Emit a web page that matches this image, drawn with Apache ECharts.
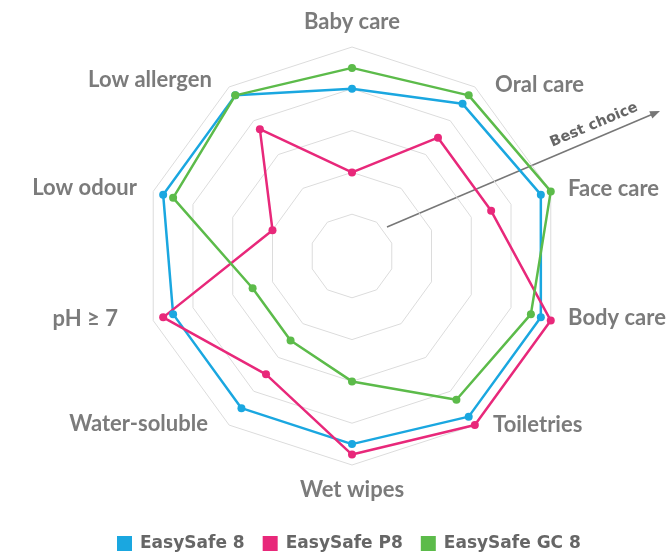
<!DOCTYPE html>
<html>
<head>
<meta charset="utf-8">
<script src="https://cdn.jsdelivr.net/npm/echarts@6/dist/echarts.min.js"></script>
<style>
  html, body { margin: 0; padding: 0; background: #fff; }
  #chart { width: 667px; height: 554px; }
</style>
</head>
<body>
<div id="chart"></div>
<script>
  // axes, clockwise from the top
  const categories = ['Baby care', 'Oral care', 'Face care', 'Body care', 'Toiletries',
    'Wet wipes', 'Water-soluble', 'pH \u2265 7', 'Low odour', 'Low allergen']
  const seriesNames = ['EasySafe 8', 'EasySafe P8', 'EasySafe GC 8']
  const easySafe8 = [8, 9, 9.5, 9.5, 9.5, 9, 9, 9, 9.5, 9.5]
  const easySafeP8 = [4, 7, 7, 10, 10, 9.5, 7, 9.5, 4, 7.5]
  const easySafeGC8 = [9, 9.5, 10, 9, 8.5, 6, 5, 5, 9, 9.5]
  const maxValue = 10

  const colors = ['#1aa7e0', '#e8287a', '#5cbb4a']

  // nudges for the axis names, [dx, dy], same order as categories
  const nameShift = [[0, 1], [12, 9], [4, 2], [4, -7], [10, -12],
    [0, 0], [-13, -13], [-22, -6], [-3, 1], [-9, 4]]

  // echarts lays indicators out counter-clockwise, so keep the first one and flip the rest
  function ccw(arr) {
    return [arr[0]].concat(arr.slice(1).reverse())
  }

  const nameFont = {
    fontFamily: 'Lato',
    fontWeight: 'bold',
    fontSize: 22,
    color: '#7b7b7b'
  }
  const rich = {}
  nameShift.forEach(function(s, i) {
    const dx = s[0]
    const dy = s[1]
    rich['n' + i] = Object.assign({
      padding: [dy > 0 ? 2 * dy : 0, dx < 0 ? -dx : 0, dy < 0 ? -2 * dy : 0, dx > 0 ? dx : 0]
    }, nameFont)
  })

  const legendFont = {
    fontFamily: 'DejaVu Sans',
    fontWeight: 'bold',
    fontSize: 17,
    color: '#666'
  }

  const chart = echarts.init(document.getElementById('chart'))
  const values = [easySafe8, easySafeP8, easySafeGC8]

  chart.setOption({
    animation: false,
    color: colors,
    legend: {
      bottom: -3,
      left: 112,
      itemWidth: 15,
      itemHeight: 15,
      itemGap: 18,
      icon: 'rect',
      formatter: function(name) {
        return '{t|' + name + '}'
      },
      textStyle: Object.assign({
        rich: { t: Object.assign({ padding: [0, 0, 0, 3] }, legendFont) }
      }, legendFont),
      data: seriesNames
    },
    radar: {
      center: [352, 256],
      radius: 209,
      splitNumber: 5,
      nameGap: 14,
      axisName: Object.assign({
        formatter: function(name) {
          return '{n' + categories.indexOf(name) + '|' + name + '}'
        },
        rich: rich
      }, nameFont),
      axisLine: { show: false },
      splitArea: { show: false },
      splitLine: { lineStyle: { color: '#dcdcdc', width: 1 } },
      indicator: ccw(categories).map(function(name) {
        return { name: name, min: 0, max: maxValue }
      })
    },
    graphic: [
      {
        type: 'line',
        shape: { x1: 387, y1: 227, x2: 653, y2: 114 },
        style: { stroke: '#777', lineWidth: 1.5 }
      },
      {
        type: 'polygon',
        x: 660,
        y: 111,
        rotation: 22.8 * Math.PI / 180,
        shape: { points: [[0, 0], [-10, -4], [-10, 4]] },
        style: { fill: '#777' }
      },
      {
        type: 'text',
        x: 594,
        y: 125,
        rotation: 22.8 * Math.PI / 180,
        style: {
          text: 'Best choice',
          fontFamily: 'DejaVu Sans',
          fontWeight: 'bold',
          fontSize: 14.5,
          fill: '#666',
          textAlign: 'center',
          textVerticalAlign: 'middle'
        }
      }
    ],
    series: [{
      type: 'radar',
      symbol: 'circle',
      symbolSize: 8,
      lineStyle: { width: 2.5 },
      data: seriesNames.map(function(name, i) {
        return { name: name, value: ccw(values[i]) }
      })
    }]
  })
</script>
</body>
</html>
